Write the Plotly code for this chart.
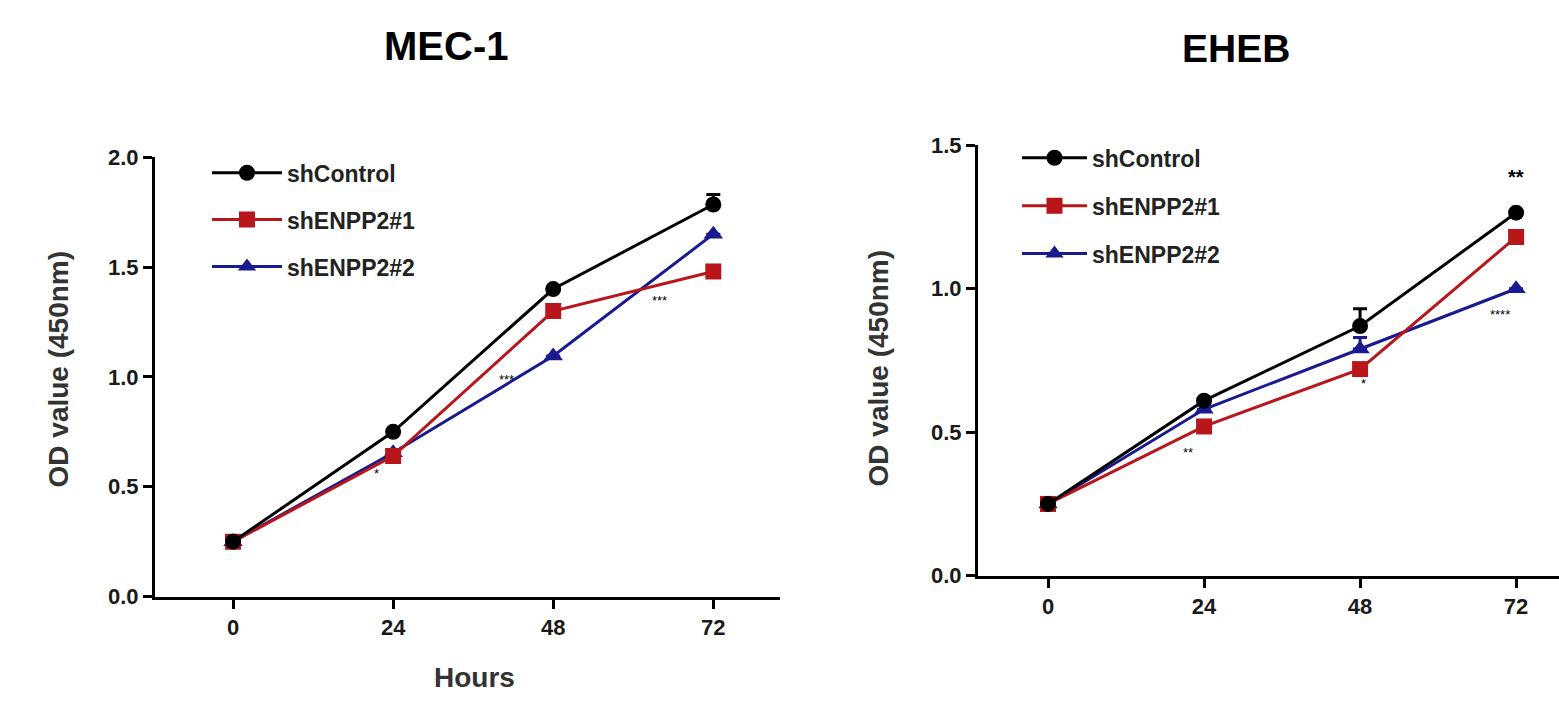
import plotly.graph_objects as go

hours = [0, 24, 48, 72]
series_names = ["shControl", "shENPP2#1", "shENPP2#2"]

# MEC-1 panel values
mec_control = [0.25, 0.75, 1.40, 1.785]
mec_sh1 = [0.25, 0.64, 1.30, 1.48]
mec_sh2 = [0.25, 0.655, 1.095, 1.65]
mec_control_err = [0, 0, 0, 0.045]
mec_sh1_err = [0, 0, 0, 0]
mec_sh2_err = [0, 0, 0, 0]

# EHEB panel values
eheb_control = [0.25, 0.61, 0.87, 1.265]
eheb_sh1 = [0.25, 0.52, 0.72, 1.18]
eheb_sh2 = [0.25, 0.58, 0.79, 1.0]
eheb_control_err = [0, 0, 0.06, 0]
eheb_sh1_err = [0, 0, 0, 0]
eheb_sh2_err = [0, 0, 0.04, 0]

# significance labels: (x hours, y value, text)
mec_sig = [(21.5, 0.56, "*"), (41.0, 0.99, "***"), (64.0, 1.35, "***")]
eheb_sig = [(21.5, 0.43, "**"), (48.5, 0.67, "*"), (69.5, 0.91, "****")]
eheb_top_sig = (72, 1.39, "**")

colors = ["#000000", "#B8161B", "#1A1A90"]
symbols = ["circle", "square", "triangle-up"]
sizes = [16, 16, 17]

W, H = 1559, 701
def px(x):
    return x / W
def py(y):
    y = (y - 12.2) / 0.968
    return (H - y) / H

fig = go.Figure()

panels = [
    dict(xa="x", ya="y", leg="legend",
         vals=[mec_control, mec_sh1, mec_sh2],
         errs=[mec_control_err, mec_sh1_err, mec_sh2_err]),
    dict(xa="x2", ya="y2", leg="legend2",
         vals=[eheb_control, eheb_sh1, eheb_sh2],
         errs=[eheb_control_err, eheb_sh1_err, eheb_sh2_err]),
]

for p in panels:
    for i in [2, 1, 0]:
        fig.add_trace(go.Scatter(
            x=hours, y=p["vals"][i], name=series_names[i],
            mode="lines+markers", xaxis=p["xa"], yaxis=p["ya"],
            legend=p["leg"], legendgroup=p["leg"] + str(i), legendrank=i + 1,
            line=dict(color=colors[i], width=3),
            marker=dict(symbol=symbols[i], size=sizes[i], color=colors[i]),
            error_y=dict(type="data", array=p["errs"][i], arrayminus=[0] * 4,
                         symmetric=False, color=colors[i], thickness=3, width=7),
        ))

axis_common = dict(
    showline=True, linecolor="black", linewidth=3, ticks="outside",
    ticklen=9, tickwidth=3, tickcolor="black", showgrid=False, zeroline=False,
    tickfont=dict(family="Arial", size=22, color="#1a1a1a", weight="bold"),
)

legend_font = dict(family="Arial", size=23, color="#222", weight="bold")

fig.update_layout(
    width=W, height=H,
    margin=dict(l=0, r=0, t=0, b=0),
    plot_bgcolor="white", paper_bgcolor="white",
    font=dict(family="Arial", color="black"),
    xaxis=dict(domain=[px(155), px(780)], range=[-11.7, 82.0], tickvals=hours,
               anchor="y", **axis_common),
    yaxis=dict(domain=[py(599), py(158)], range=[0, 2.0], tickvals=[0, 0.5, 1.0, 1.5, 2.0],
               tickformat=".1f", anchor="x", **axis_common),
    xaxis2=dict(domain=[px(978), 1.0], range=[-10.77, 78.6], tickvals=hours,
                anchor="y2", **axis_common),
    yaxis2=dict(domain=[py(578), py(146)], range=[0, 1.5], tickvals=[0, 0.5, 1.0, 1.5],
                tickformat=".1f", anchor="x2", **axis_common),
    legend=dict(x=px(207), y=py(152), xanchor="left", yanchor="top",
                bgcolor="rgba(0,0,0,0)", tracegroupgap=14, itemwidth=70,
                font=legend_font),
    legend2=dict(x=px(1017), y=py(137), xanchor="left", yanchor="top",
                 bgcolor="rgba(0,0,0,0)", tracegroupgap=15, itemwidth=65,
                 font=legend_font),
    showlegend=True,
)

def ann(text, x, y, size, color="black", angle=0):
    return dict(text=text, x=px(x), y=py(y), xref="paper", yref="paper",
                xanchor="center", yanchor="middle", showarrow=False, textangle=angle,
                font=dict(size=size, color=color))

annotations = [
    ann("<b>MEC-1</b>", 446, 46, 40),
    ann("<b>EHEB</b>", 1236, 49, 39),
    ann("<b>Hours</b>", 474, 680, 28, "#333"),
    ann("<b>OD value (450nm)</b>", 58, 370, 28, "#333", -90),
    ann("<b>OD value (450nm)</b>", 878, 370, 28, "#333", -90),
]
for (x, y, t) in mec_sig:
    annotations.append(dict(text=t, x=x, y=y, xref="x", yref="y", showarrow=False,
                            xanchor="center", yanchor="middle",
                            font=dict(size=13, color="black")))
for (x, y, t) in eheb_sig:
    annotations.append(dict(text=t, x=x, y=y, xref="x2", yref="y2", showarrow=False,
                            xanchor="center", yanchor="middle",
                            font=dict(size=13, color="black")))
annotations.append(dict(text="<b>" + eheb_top_sig[2] + "</b>", x=eheb_top_sig[0], y=eheb_top_sig[1],
                        xref="x2", yref="y2", showarrow=False, xanchor="center", yanchor="middle",
                        font=dict(size=20, color="black")))
fig.update_layout(annotations=annotations)

fig.write_html("out.html", config={"displayModeBar": False},
               post_script="document.body.style.margin='0';document.body.style.overflow='hidden';")
